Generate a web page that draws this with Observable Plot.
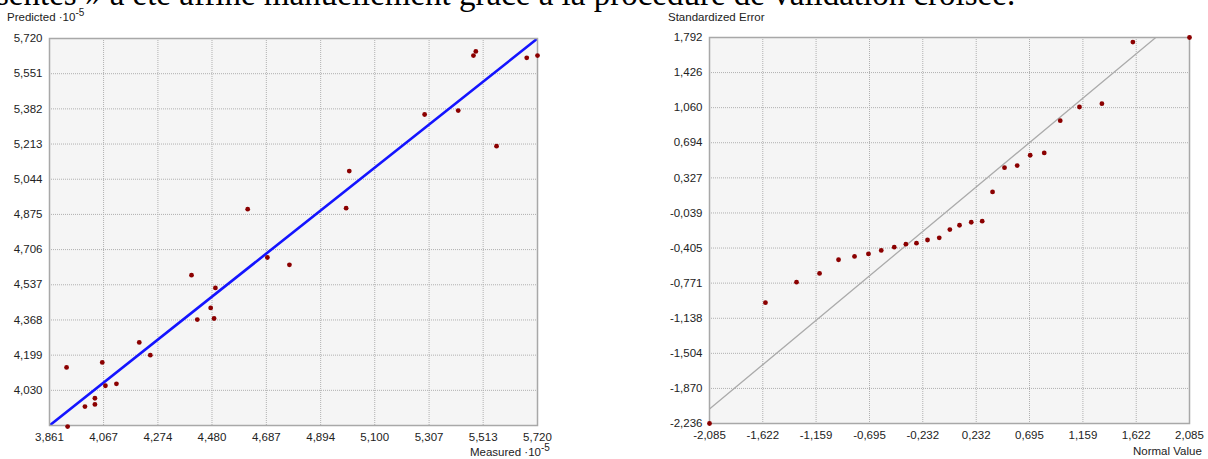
<!DOCTYPE html>
<html><head><meta charset="utf-8">
<script src="https://cdn.jsdelivr.net/npm/d3@7"></script>
<script src="https://cdn.jsdelivr.net/npm/@observablehq/plot@0.6"></script>
<style>
html,body{margin:0;padding:0;background:#fff;}
#wrap{position:relative;width:1208px;height:459px;overflow:hidden;font-family:"Liberation Sans",Arial,sans-serif;}
.panel{position:absolute;top:0;}
.lbl{position:absolute;font-size:11.5px;color:#222;white-space:nowrap;line-height:1;}
.lbl sup{font-size:10px;vertical-align:0;position:relative;top:-5px;}
#hdr{position:absolute;left:-4px;top:-22px;font-family:"Liberation Serif","Times New Roman",serif;font-size:33px;line-height:33px;white-space:nowrap;color:#000;}
</style></head><body>
<div id="wrap">
  <div id="left" class="panel" style="left:0"></div>
  <div id="right" class="panel" style="left:600px"></div>
  <div id="hdr">sentes » a été affiné manuellement grâce à la procédure de validation croisée.</div>
  <div class="lbl" style="left:7px;top:12px">Predicted ·10<sup>-5</sup></div>
  <div class="lbl" style="left:470px;top:447px">Measured ·10<sup>-5</sup></div>
  <div class="lbl" style="left:668px;top:12px">Standardized Error</div>
  <div class="lbl" style="left:1133px;top:446px">Normal Value</div>
</div>
<script>
// Left panel: Measured vs Predicted (·10^-5)
const measured  = [3.926, 3.930, 3.996, 4.034, 4.034, 4.062, 4.074, 4.116, 4.203, 4.245, 4.402, 4.424, 4.475, 4.488, 4.493, 4.616, 4.691, 4.775, 4.991, 5.003, 5.290, 5.418, 5.476, 5.485, 5.564, 5.679, 5.720];
const predicted = [4.140, 3.856, 3.952, 3.992, 3.962, 4.164, 4.052, 4.061, 4.260, 4.199, 4.583, 4.370, 4.426, 4.375, 4.522, 4.900, 4.668, 4.633, 4.905, 5.083, 5.355, 5.374, 5.638, 5.658, 5.203, 5.627, 5.638];
const leftDomain = [3.861, 5.720];
const leftXTicks = [3.861, 4.067, 4.274, 4.480, 4.687, 4.894, 5.100, 5.307, 5.513, 5.720];
const leftYTicks = [4.030, 4.199, 4.368, 4.537, 4.706, 4.875, 5.044, 5.213, 5.382, 5.551, 5.720];

// Right panel: Normal QQ plot
const normalValue = [-2.085, -1.599, -1.329, -1.129, -0.964, -0.825, -0.704, -0.593, -0.480, -0.379, -0.287, -0.191, -0.089, 0.003, 0.087, 0.189, 0.284, 0.374, 0.478, 0.588, 0.701, 0.823, 0.962, 1.129, 1.324, 1.593, 2.085];
const stdError    = [-2.236, -0.975, -0.761, -0.670, -0.527, -0.493, -0.465, -0.430, -0.396, -0.365, -0.354, -0.321, -0.298, -0.212, -0.167, -0.136, -0.125, 0.181, 0.434, 0.455, 0.563, 0.588, 0.924, 1.067, 1.101, 1.744, 1.792];
const rightXDomain = [-2.085, 2.085];
const rightYDomain = [-2.236, 1.792];
const rightXTicks = [-2.085, -1.622, -1.159, -0.695, -0.232, 0.232, 0.695, 1.159, 1.622, 2.085];
const rightYTicks = [-2.236, -1.870, -1.504, -1.138, -0.771, -0.405, -0.039, 0.327, 0.694, 1.060, 1.426, 1.792];

const fmt = v => v.toFixed(3).replace(".", ",");
const gridStyle = {stroke: "#b0b0b0", strokeWidth: 1, strokeDasharray: "1,1", strokeOpacity: 1};
const style = {fontFamily: "'Liberation Sans', Arial, sans-serif", fontSize: "11.5px", color: "#222", background: "transparent", overflow: "visible"};

const leftPts = measured.map((m, i) => ({x: m, y: predicted[i]}));
const leftLine = leftDomain.map(v => ({x: v, y: v}));

const leftPlot = Plot.plot({
  width: 600, height: 459,
  marginLeft: 49, marginRight: 63, marginTop: 38, marginBottom: 34,
  style,
  x: {domain: leftDomain},
  y: {domain: leftDomain},
  marks: [
    Plot.frame({fill: "#f5f5f5", stroke: null}),
    Plot.ruleX(leftXTicks, {...gridStyle}),
    Plot.ruleY(leftYTicks, {...gridStyle}),
    Plot.line(leftLine, {x: "x", y: "y", stroke: "#1414ff", strokeWidth: 2.6, clip: true}),
    Plot.frame({stroke: "#a8a8a8", strokeWidth: 1.5}),
    Plot.axisX({ticks: leftXTicks, tickFormat: fmt, tickSize: 0, tickPadding: 7, label: null}),
    Plot.axisY({ticks: leftYTicks, tickFormat: fmt, tickSize: 0, tickPadding: 7, label: null}),
    Plot.dot(leftPts, {x: "x", y: "y", r: 2.4, fill: "#8b0000", stroke: null})
  ]
});
document.getElementById("left").appendChild(leftPlot);

const rightPts = normalValue.map((n, i) => ({x: n, y: stdError[i]}));
const refLine = rightXDomain.map(v => ({x: v, y: v}));

const rightPlot = Plot.plot({
  width: 608, height: 459,
  marginLeft: 109, marginRight: 19, marginTop: 37, marginBottom: 36,
  style,
  x: {domain: rightXDomain},
  y: {domain: rightYDomain},
  marks: [
    Plot.frame({fill: "#f5f5f5", stroke: null}),
    Plot.ruleX(rightXTicks, {...gridStyle}),
    Plot.ruleY(rightYTicks, {...gridStyle}),
    Plot.line(refLine, {x: "x", y: "y", stroke: "#ababab", strokeWidth: 1.3, clip: true}),
    Plot.frame({stroke: "#a8a8a8", strokeWidth: 1.5}),
    Plot.axisX({ticks: rightXTicks, tickFormat: fmt, tickSize: 0, tickPadding: 7, label: null}),
    Plot.axisY({ticks: rightYTicks, tickFormat: fmt, tickSize: 0, tickPadding: 7, label: null}),
    Plot.dot(rightPts, {x: "x", y: "y", r: 2.4, fill: "#8b0000", stroke: null})
  ]
});
document.getElementById("right").appendChild(rightPlot);
</script>
</body></html>
